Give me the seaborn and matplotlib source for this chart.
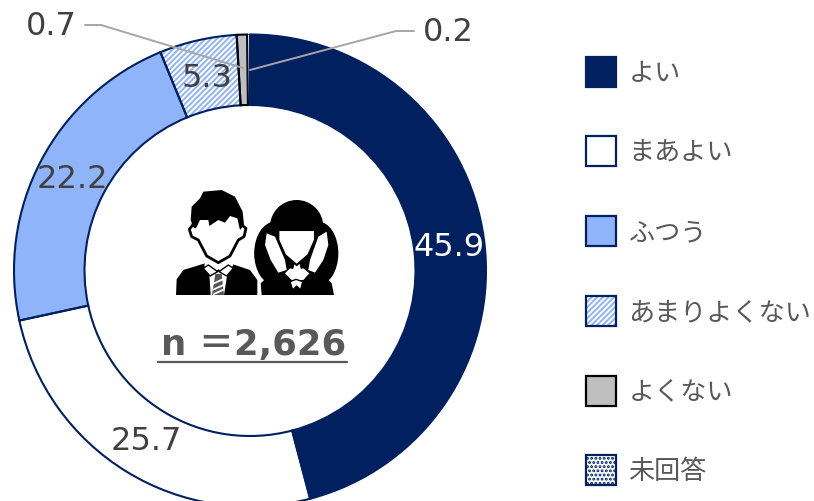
import matplotlib
matplotlib.use("Agg")
import matplotlib.pyplot as plt
import seaborn as sns
from matplotlib.patches import Rectangle, Polygon, Ellipse

categories = ["よい", "まあよい", "ふつう", "あまりよくない", "よくない", "未回答"]
values = [45.9, 25.7, 22.2, 5.3, 0.7, 0.2]
value_labels = ["45.9", "25.7", "22.2", "5.3", "0.7", "0.2"]
sample_label = "n ＝2,626"

NAVY = "#002060"
LIGHT = "#8FB4FA"
GRAY = "#BFBFBF"
TEXT = "#404040"
LEADER = "#A6A6A6"

sns.set_theme(style="white")
plt.rcParams["font.family"] = ["DejaVu Sans", "Noto Sans CJK JP"]
plt.rcParams["hatch.linewidth"] = 1.4

W, H = 814, 501
fig = plt.figure(figsize=(W / 100, H / 100), dpi=100, facecolor="white")

cx, cy, R, r = 250, 270.5, 236, 165.5
ax = fig.add_axes([(cx - R) / W, 1 - (cy + R) / H, 2 * R / W, 2 * R / H])

fills = sns.color_palette([NAVY, "#FFFFFF", LIGHT, "#FFFFFF", GRAY, "#FFFFFF"])
edges = [NAVY, NAVY, NAVY, NAVY, "#000000", NAVY]
edge_lw = [1.5, 1.5, 1.5, 1.5, 1.5, 0.4]
width = 1 - r / R

# fill + hatch layer
base, _ = ax.pie(values, colors=fills, startangle=90, counterclock=False, radius=1,
                 wedgeprops=dict(width=width, linewidth=0))
base[3].set_hatch("//////")
base[3].set_edgecolor(LIGHT)
# outline layer
outline, _ = ax.pie(values, colors=["none"] * 6, startangle=90, counterclock=False, radius=1,
                    wedgeprops=dict(width=width, linewidth=1.5))
for w, e, lw in zip(outline, edges, edge_lw):
    w.set_edgecolor(e)
    w.set_facecolor("none")
    w.set_linewidth(lw)
ax.set_xlim(-1, 1)
ax.set_ylim(-1, 1)
ax.set_aspect("equal")

# overlay in pixel coordinates
ov = fig.add_axes([0, 0, 1, 1], facecolor="none")
ov.set_xlim(0, W)
ov.set_ylim(H, 0)
ov.axis("off")

# leader lines
ov.plot([85, 101, 243], [25, 25, 68], color=LEADER, lw=1.4, solid_joinstyle="miter")
ov.plot([414, 396, 250], [31, 31, 70], color=LEADER, lw=1.4, solid_joinstyle="miter")

# value labels
label_pos = [(449, 247), (146, 442), (72, 180), (207, 78), (51, 26), (448, 32)]
label_col = ["white", TEXT, TEXT, TEXT, TEXT, TEXT]
for s, (x, y), c in zip(value_labels, label_pos, label_col):
    ov.text(x, y, s, ha="center", va="center", fontsize=23, color=c)

# legend
leg_y = [72, 151, 231, 311, 391, 470]
leg_face = [NAVY, "#FFFFFF", LIGHT, "#FFFFFF", GRAY, "#FFFFFF"]
leg_hatch = [None, None, None, ("//////", LIGHT), None, ("....", NAVY)]
for i, (cat, y) in enumerate(zip(categories, leg_y)):
    if leg_hatch[i]:
        ov.add_patch(Rectangle((586, y - 15), 30, 30, facecolor="white",
                               edgecolor=leg_hatch[i][1], hatch=leg_hatch[i][0], lw=0))
    else:
        ov.add_patch(Rectangle((586, y - 15), 30, 30, facecolor=leg_face[i], edgecolor="none"))
    ov.add_patch(Rectangle((586, y - 15), 30, 30, facecolor="none",
                           edgecolor="#000000" if i == 4 else NAVY, lw=1.6))
    ov.text(628.5, y + 1.5, cat, ha="left", va="center", fontsize=18.8, color="#595959",
            family=["Noto Sans CJK JP", "DejaVu Sans"])

# centre label
ov.text(254, 345, sample_label, ha="center", va="center", fontsize=25.5, fontweight="bold",
        color="#595959", family=["DejaVu Sans", "Noto Sans CJK JP"])
ov.plot([158, 347], [361.5, 361.5], color="#595959", lw=1.6)


# pictogram (traced in zoom-crop coordinates)
def pts(seq):
    return [(150 + x / 3, 170 + y / 3) for x, y in seq]


def poly(seq, fc, ec="none", lw=0.0, z=5):
    ov.add_patch(Polygon(pts(seq), closed=True, facecolor=fc, edgecolor=ec, lw=lw,
                         joinstyle="round", zorder=z))


def blob(x, y, w, h, fc, ec="none", lw=0.0, z=5):
    ov.add_patch(Ellipse((150 + x / 3, 170 + y / 3), w / 3, h / 3, facecolor=fc,
                         edgecolor=ec, lw=lw, zorder=z))


# boy
poly([(78, 375), (80, 328), (100, 300), (165, 280), (240, 280), (300, 300), (322, 330), (322, 375)], "black")
poly([(160, 240), (165, 275), (163, 288), (178, 312), (205, 298), (232, 312), (250, 285), (245, 270), (250, 240)], "white", z=6)
poly([(118, 178), (128, 165), (140, 130), (205, 105), (270, 130), (275, 165), (288, 175), (282, 200), (265, 210), (240, 258),
      (205, 278), (170, 258), (145, 210), (125, 200)], "white", "black", 2, z=6)
poly([(122, 150), (125, 110), (150, 85), (160, 65), (215, 60), (255, 80), (278, 125), (282, 165), (270, 180), (262, 145),
      (240, 138), (225, 158), (205, 150), (178, 168), (175, 150), (150, 150), (138, 175), (130, 172)], "black", z=7)
poly([(178, 312), (205, 305), (232, 312), (222, 375), (182, 375)], "white", z=7)
poly([(196, 312), (215, 312), (222, 375), (186, 375)], "#555555", z=8)
for yy in (330, 348, 362):
    poly([(190, yy + 8), (220, yy - 6), (221, yy), (189, yy + 14)], "white", z=9)
poly([(160, 295), (175, 285), (203, 305), (180, 318)], "white", "black", 1, z=9)
poly([(250, 295), (235, 285), (207, 305), (230, 318)], "white", "black", 1, z=9)

# girl
blob(440, 170, 160, 160, "black")
blob(375, 250, 125, 190, "black")
blob(505, 250, 120, 190, "black")
poly([(335, 375), (332, 340), (370, 305), (510, 305), (545, 340), (552, 375)], "black")
poly([(350, 190), (375, 200), (405, 270), (410, 300), (385, 308), (362, 270), (345, 225)], "white", z=6)
poly([(530, 185), (505, 200), (480, 270), (475, 300), (495, 308), (520, 270), (535, 225)], "white", z=6)
poly([(385, 180), (495, 180), (495, 210), (475, 255), (440, 285), (405, 255), (385, 210)], "white", "black", 1.5, z=7)
poly([(383, 190), (390, 140), (440, 118), (490, 140), (497, 190), (490, 178), (390, 178)], "black", z=8)
poly([(405, 310), (420, 295), (440, 300), (460, 295), (478, 310), (460, 330), (425, 330)], "white", z=8)
poly([(420, 335), (438, 328), (458, 335), (452, 360), (440, 348), (428, 360)], "white", "black", 1, z=9)

fig.savefig("out.png", dpi=100)
